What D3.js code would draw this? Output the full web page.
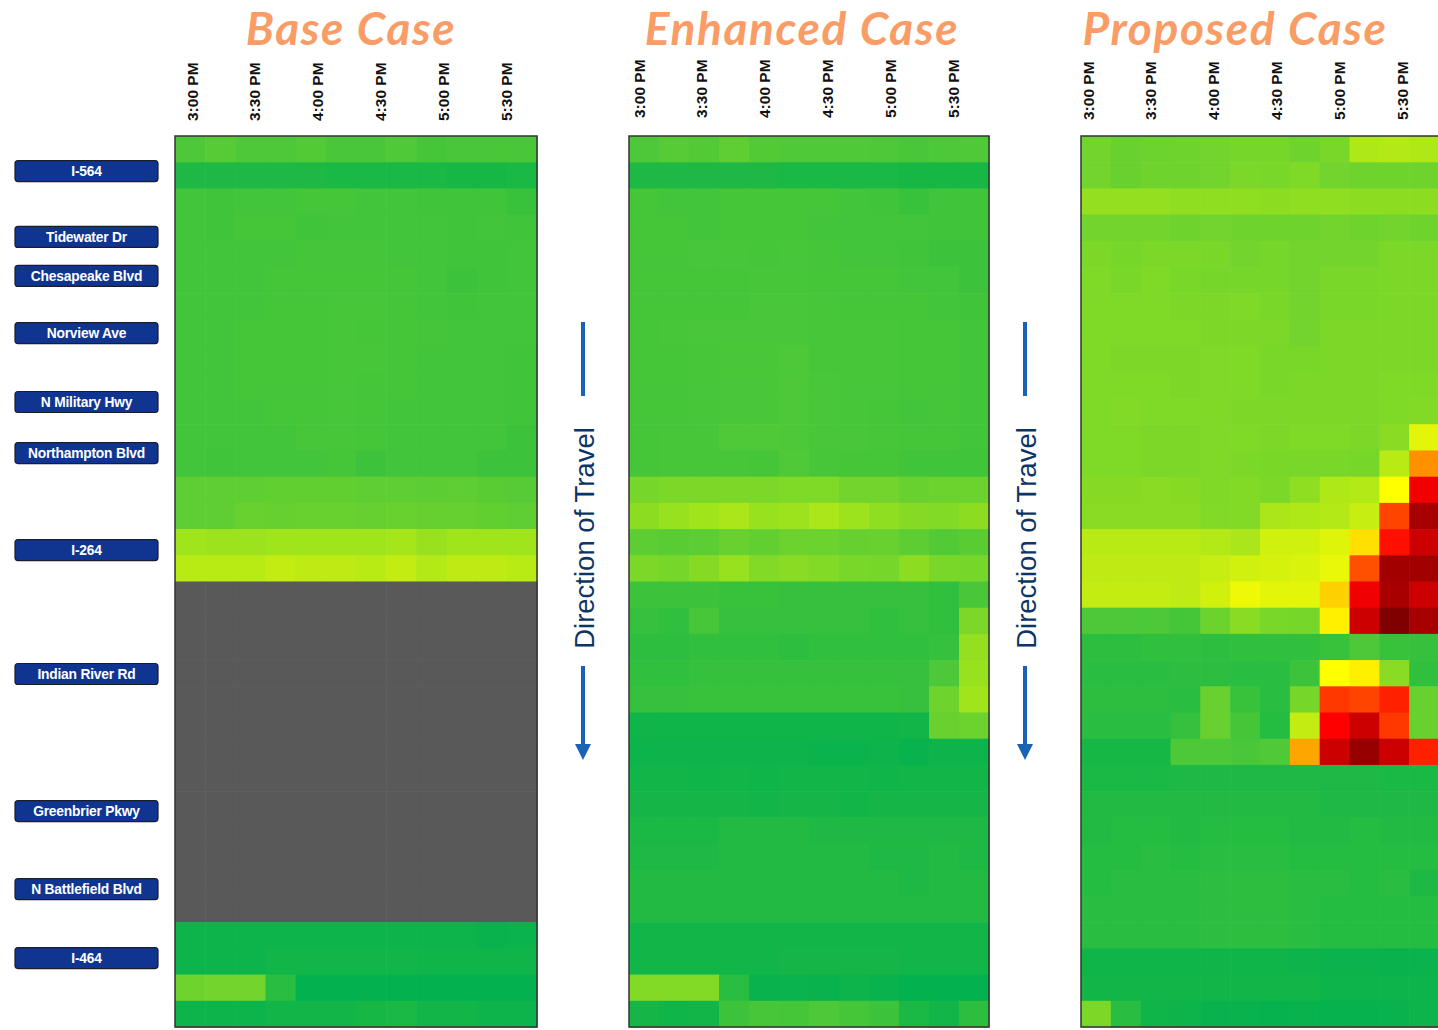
<!DOCTYPE html>
<html><head><meta charset="utf-8">
<script src="https://cdn.jsdelivr.net/npm/d3@7"></script>
<style>html,body{margin:0;padding:0;background:#fff;} svg{display:block}</style>
</head><body><svg id="chart" width="1438" height="1030"></svg>
<script>
// ---------- DATA ----------
const timeLabels = ["3:00 PM","3:30 PM","4:00 PM","4:30 PM","5:00 PM","5:30 PM"];
const intervals = ["3:00","3:15","3:30","3:45","4:00","4:15","4:30","4:45","5:00","5:15","5:30","5:45"];
const caseTitles = ["Base Case","Enhanced Case","Proposed Case"];
const interchanges = ["I-564","Tidewater Dr","Chesapeake Blvd","Norview Ave","N Military Hwy","Northampton Blvd","I-264","Indian River Rd","Greenbrier Pkwy","N Battlefield Blvd","I-464"];
// location of each interchange along the corridor, in segment units
const interchangeSegment = [1.34,3.85,5.34,7.52,10.15,12.1,15.8,20.53,25.76,28.74,31.37];
const directionLabel = "Direction of Travel";

// congestion index per segment (row) x 15-min interval (column); null = not modelled
const NA = null;
const baseCase = [
[25,28,25,25,27,24,24,26,22,24,24,24],
[11,11,11,11,11,10,10,10,10,9,9,10],
[21,20,21,21,22,22,21,21,20,20,20,18],
[21,20,22,22,20,21,21,21,21,20,21,20],
[21,21,21,21,22,22,22,21,21,20,20,21],
[21,21,21,22,22,22,22,22,21,19,20,21],
[21,21,21,22,22,23,23,22,21,20,21,21],
[21,21,22,22,22,23,22,22,22,21,21,21],
[21,21,22,22,22,23,23,22,21,21,21,20],
[21,21,22,22,22,23,22,22,21,21,21,20],
[21,21,21,22,22,23,22,21,21,21,21,20],
[21,21,21,21,23,23,22,21,21,21,21,19],
[21,20,21,21,21,22,19,21,21,21,19,19],
[31,31,31,32,32,32,31,31,30,31,29,28],
[31,31,34,33,34,34,33,34,33,33,32,31],
[50,49,49,50,50,50,50,51,48,50,50,50],
[55,55,55,57,56,56,55,57,54,56,56,55],
NA,NA,NA,NA,NA,NA,NA,NA,NA,NA,NA,NA,NA,
[5,5,5,5,5,5,5,5,5,5,3,4],
[5,5,5,7,7,7,7,7,6,6,6,6],
[36,37,37,14,1,1,1,1,1,1,1,1],
[5,5,5,7,7,7,9,10,7,7,5,5]
];
const enhancedCase = [
[25,28,27,31,27,26,26,26,25,24,25,26],
[11,11,11,11,11,10,10,10,10,9,9,9],
[22,21,21,22,22,22,22,21,20,18,20,20],
[22,22,21,22,22,22,21,21,21,21,20,20],
[22,22,23,23,22,23,22,21,21,20,19,19],
[22,22,22,22,23,23,22,22,22,21,21,19],
[22,22,22,22,24,24,23,22,22,22,21,20],
[22,23,24,24,24,24,23,23,23,22,22,21],
[22,22,23,24,24,25,23,23,23,22,22,21],
[22,22,23,24,24,25,24,23,23,22,22,21],
[22,22,23,24,24,25,24,23,22,21,22,21],
[22,23,23,26,26,25,24,24,23,22,22,21],
[22,23,23,23,22,26,23,22,22,20,20,20],
[38,40,40,40,40,41,41,37,37,34,35,35],
[45,48,50,52,48,49,52,49,46,43,42,45],
[30,29,30,34,32,35,35,33,34,30,27,29],
[40,38,43,48,42,44,42,39,38,45,39,38],
[19,19,19,18,18,17,17,17,17,17,16,24],
[17,16,23,17,17,17,17,17,16,17,16,40],
[15,15,16,16,16,15,16,16,16,16,17,47],
[16,16,17,17,17,17,17,17,17,17,25,48],
[17,17,18,18,18,18,18,18,18,17,36,50],
[6,6,6,6,6,6,6,6,6,7,34,35],
[5,5,5,5,5,5,4,4,5,3,5,5],
[7,7,6,7,6,7,7,7,6,7,7,7],
[8,8,8,8,7,8,8,7,8,8,8,8],
[10,10,10,12,12,12,11,11,11,11,11,11],
[11,11,11,12,12,12,12,12,11,11,12,11],
[12,12,12,12,12,12,12,12,12,11,12,12],
[12,12,12,12,12,12,12,12,12,12,12,12],
[7,7,7,7,7,7,7,7,7,7,7,7],
[7,7,7,7,7,8,8,8,8,7,7,7],
[42,42,42,14,3,4,3,5,3,1,1,1],
[8,6,7,19,23,22,25,22,19,10,7,15]
];
const proposedCase = [
[37,34,35,36,37,38,38,36,39,53,54,53],
[37,34,36,36,37,40,39,41,37,36,36,36],
[47,47,47,46,46,46,45,46,46,45,45,45],
[37,37,37,36,37,36,36,36,37,36,37,36],
[40,38,40,40,39,37,38,37,37,37,40,40],
[41,39,41,39,38,38,38,37,39,39,40,40],
[41,41,41,40,40,41,39,37,39,39,40,40],
[41,41,41,41,40,40,40,37,40,40,40,40],
[41,40,40,40,41,41,39,39,40,40,40,40],
[41,41,41,40,41,41,39,40,40,40,41,41],
[41,42,41,41,41,40,40,40,40,40,41,42],
[41,41,40,40,41,41,40,41,41,40,44,64],
[41,41,40,40,41,40,39,39,39,38,55,79],
[43,43,44,43,41,42,40,46,53,54,70,89],
[44,44,44,44,42,42,52,53,54,58,83,95],
[55,55,55,55,54,52,60,60,63,74,87,92],
[56,56,56,56,58,60,61,62,65,82,96,96],
[57,57,57,56,60,66,64,64,75,89,95,92],
[25,25,25,22,35,44,39,38,72,92,100,95],
[15,15,16,16,15,16,16,16,18,25,18,17],
[14,14,14,15,15,14,14,19,70,72,44,16],
[15,15,15,14,34,18,14,38,84,83,86,34],
[14,14,14,17,34,22,13,57,88,92,84,34],
[9,9,9,25,25,24,26,78,92,98,92,86],
[10,10,10,11,11,11,11,11,11,11,10,10],
[12,12,12,12,12,12,12,12,11,11,11,11],
[12,13,13,12,13,13,13,12,12,13,12,12],
[13,13,14,13,14,14,14,13,13,13,13,13],
[13,14,14,14,15,15,15,14,14,13,14,11],
[14,14,14,14,15,15,15,14,13,13,13,13],
[14,14,14,14,15,15,15,14,13,13,13,13],
[6,6,6,6,6,6,6,5,4,4,3,4],
[7,7,7,7,7,7,7,7,5,5,5,5],
[40,14,6,5,3,3,2,3,2,2,3,5]
];
const colorStops = [0,10,20,25,30,35,40,45,50,55,60,65,70,74,78,82,86,88,90,92,95,98,100];
const colorRange = ["#00b050","#1ab845","#40c43a","#4cc838","#5ccd33","#6cd22e","#7cd828","#8cdc22","#a0e41c","#b8ea14","#d0f00e","#e8f808","#ffff00","#ffe000","#ffa500","#ff5000","#ff2000","#ff0000","#e00000","#cc0000","#a80000","#960000","#800000"];

// ---------- LAYOUT ----------
const W = 1438, H = 1030;
const gridTop = 136, gridBottom = 1027;
const panels = [
  {title: caseTitles[0], data: baseCase,     x0: 175,  x1: 537,  titleX: 351,  tick0: 192,  tickBottom: 121},
  {title: caseTitles[1], data: enhancedCase, x0: 629,  x1: 989,  titleX: 802,  tick0: 639,  tickBottom: 118},
  {title: caseTitles[2], data: proposedCase, x0: 1081, x1: 1439, titleX: 1235, tick0: 1088, tickBottom: 120}
];
const tickStep = 62.8;
const arrows = [{x: 583}, {x: 1025}];

const svg = d3.select("#chart");
const color = d3.scaleLinear().domain(colorStops).range(colorRange).clamp(true);
const nSeg = baseCase.length;
const y = d3.scaleBand().domain(d3.range(nSeg)).range([gridTop, gridBottom]);
const yPos = d3.scaleLinear().domain([0, nSeg]).range([gridTop, gridBottom]);

panels.forEach(p => {
  const x = d3.scaleBand().domain(intervals).range([p.x0, p.x1]);
  const g = svg.append("g");
  const cells = [];
  p.data.forEach((row, r) => {
    intervals.forEach((t, c) => {
      cells.push({r, t, v: row ? row[c] : null});
    });
  });
  g.selectAll("rect.cell").data(cells).join("rect")
    .attr("class","cell")
    .attr("x", d => x(d.t))
    .attr("y", d => y(d.r))
    .attr("width", x.bandwidth() + 0.6)
    .attr("height", y.bandwidth() + 0.6)
    .attr("fill", d => d.v == null ? "#595959" : color(d.v));
  g.append("rect")
    .attr("x", p.x0).attr("y", gridTop)
    .attr("width", p.x1 - p.x0).attr("height", gridBottom - gridTop)
    .attr("fill","none").attr("stroke","#333").attr("stroke-width",1.5);

  // title
  svg.append("text")
    .attr("x", p.titleX).attr("y", 45)
    .attr("text-anchor","middle")
    .attr("font-family","Lato, 'Open Sans', sans-serif")
    .attr("font-weight","bold").attr("font-style","italic")
    .attr("font-size", 46)
    .attr("letter-spacing", 1.6)
    .attr("fill","#f99c66")
    .text(p.title);

  // time labels
  const tx = d3.scalePoint().domain(timeLabels).range([p.tick0, p.tick0 + tickStep * (timeLabels.length - 1)]);
  svg.selectAll(null).data(timeLabels).join("text")
    .attr("transform", d => `translate(${tx(d)},${p.tickBottom}) rotate(-90)`)
    .attr("text-anchor","start")
    .attr("dominant-baseline","central")
    .attr("font-family","'Liberation Sans', Arial, sans-serif")
    .attr("font-weight","bold")
    .attr("font-size", 15.5)
    .attr("fill","#111")
    .text(d => d);
});

// interchange labels
const lg = svg.append("g");
const lab = lg.selectAll("g").data(interchanges).join("g")
  .attr("transform", (d, i) => `translate(0,${yPos(interchangeSegment[i])})`);
lab.append("rect")
  .attr("x", 15).attr("y", -10.5).attr("width", 143).attr("height", 21)
  .attr("rx", 3).attr("fill", "#0f3591").attr("stroke", "#1c1c2c").attr("stroke-width", 1.2);
lab.append("text")
  .attr("x", 86.5).attr("y", 0.5)
  .attr("text-anchor","middle").attr("dominant-baseline","central")
  .attr("font-family","'Liberation Sans', Arial, sans-serif")
  .attr("font-weight","bold").attr("font-size", 13.8)
  .attr("letter-spacing", -0.2)
  .attr("fill","#fff")
  .text(d => d);

// direction of travel arrows
arrows.forEach(a => {
  const gg = svg.append("g");
  gg.append("line").attr("x1", a.x).attr("x2", a.x).attr("y1", 322).attr("y2", 396)
    .attr("stroke","#1a62b5").attr("stroke-width", 4);
  gg.append("line").attr("x1", a.x).attr("x2", a.x).attr("y1", 666).attr("y2", 746)
    .attr("stroke","#1a62b5").attr("stroke-width", 4);
  gg.append("path")
    .attr("d", `M${a.x-8},744 L${a.x+8},744 L${a.x},760 Z`)
    .attr("fill","#1a62b5");
  gg.append("text")
    .attr("transform", `translate(${a.x + 1},538) rotate(-90)`)
    .attr("text-anchor","middle").attr("dominant-baseline","central")
    .attr("font-family","'Liberation Sans', Arial, sans-serif")
    .attr("font-size", 27.5)
    .attr("fill","#0d3466")
    .text(directionLabel);
});
</script>
</body></html>
